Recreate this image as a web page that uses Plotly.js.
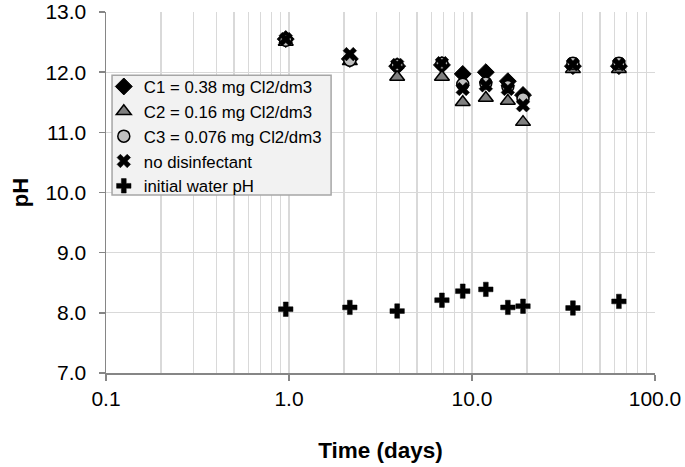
<!DOCTYPE html>
<html>
<head>
<meta charset="utf-8">
<script src="https://cdn.plot.ly/plotly-3.0.1.min.js"></script>
<style>html,body{margin:0;padding:0;background:#fff;}#chart{width:685px;height:467px;}</style>
</head>
<body>
<div id="chart"></div>
<script>
// Time (days)
const days = [0.96, 2.15, 3.9, 6.85, 8.9, 11.9, 15.7, 19.0, 35.6, 63.5];
// pH series
const c1 = [12.55, 12.22, 12.10, 12.12, 11.97, 12.00, 11.85, 11.62, 12.10, 12.10];
const c2 = [12.50, 12.18, 11.92, 11.92, 11.50, 11.57, 11.52, 11.17, 12.05, 12.05];
const c3 = [12.53, 12.20, 12.12, 12.15, 11.80, 11.82, 11.76, 11.56, 12.15, 12.15];
const noDis = [12.55, 12.30, 12.12, 12.15, 11.72, 11.78, 11.72, 11.45, 12.13, 12.13];
const initial = [8.06, 8.09, 8.03, 8.21, 8.36, 8.39, 8.09, 8.11, 8.08, 8.19];
const names = ['C1 = 0.38 mg Cl2/dm3', 'C2 = 0.16 mg Cl2/dm3', 'C3 = 0.076 mg Cl2/dm3', 'no disinfectant', 'initial water pH'];
const xTickVals = [0.1, 1, 10, 100];
const xTickText = ['0.1', '1.0', '10.0', '100.0'];
const yTickVals = [7, 8, 9, 10, 11, 12, 13];
const yTickText = ['7.0', '8.0', '9.0', '10.0', '11.0', '12.0', '13.0'];

const font = 'Liberation Sans, Arial, sans-serif';
const traces = [
  {x: days, y: c1, name: names[0], type: 'scatter', mode: 'markers',
   marker: {symbol: 'diamond', size: 13, color: '#000000', line: {color: '#000', width: 1}}},
  {x: days, y: c2, name: names[1], type: 'scatter', mode: 'markers',
   marker: {symbol: 'triangle-up', size: 13, color: '#7f7f7f', line: {color: '#000', width: 1.5}}},
  {x: days, y: c3, name: names[2], type: 'scatter', mode: 'markers',
   marker: {symbol: 'circle', size: 12, color: '#bfbfbf', line: {color: '#000', width: 1.5}}},
  {x: days, y: noDis, name: names[3], type: 'scatter', mode: 'markers',
   marker: {symbol: 'x', size: 12, color: '#000000', line: {color: '#000', width: 0.5}}},
  {x: days, y: initial, name: names[4], type: 'scatter', mode: 'markers',
   marker: {symbol: 'cross', size: 12, color: '#000000', line: {color: '#000', width: 0.5}}}
];

const layout = {
  width: 685, height: 467,
  margin: {l: 106, r: 30, t: 12, b: 94},
  paper_bgcolor: '#fff', plot_bgcolor: '#fff',
  font: {family: font, color: '#000', size: 20},
  showlegend: true,
  legend: {x: -0.004, y: 0.842, xanchor: 'left', yanchor: 'top',
    bgcolor: 'rgba(0,0,0,0)', borderwidth: 0,
    font: {family: font, size: 16.8, color: '#000'}, itemwidth: 30, tracegroupgap: 0},
  shapes: [{type: 'rect', xref: 'paper', yref: 'paper', x0: 0.011, x1: 0.41, y0: 0.493, y1: 0.825,
    fillcolor: '#f2f2f2', line: {color: '#a6a6a6', width: 1.5}, layer: 'above'}],
  xaxis: {type: 'log', range: [-1, 2], tickmode: 'array', tickvals: xTickVals, ticktext: xTickText,
    showgrid: true, gridcolor: '#d9d9d9', gridwidth: 1.3,
    minor: {dtick: 'D1', showgrid: true, gridcolor: '#d9d9d9', gridwidth: 1.3, ticks: ''},
    showline: true, linecolor: '#868686', linewidth: 1.5, ticks: 'outside', ticklen: 6, tickcolor: '#868686', tickwidth: 1.5,
    tickfont: {family: font, size: 21}, zeroline: false,
    title: {text: '<b>Time (days)</b>', font: {family: font, size: 22.5}, standoff: 33}},
  yaxis: {range: [7, 13], tickmode: 'array', tickvals: yTickVals, ticktext: yTickText,
    showgrid: true, gridcolor: '#d9d9d9', gridwidth: 1.3,
    showline: true, linecolor: '#868686', linewidth: 1.5, ticks: 'outside', ticklen: 6, tickcolor: '#868686', tickwidth: 1.5,
    ticklabelstandoff: 8,
    tickfont: {family: font, size: 21}, zeroline: false,
    title: {text: '<b>pH</b>', font: {family: font, size: 22}, standoff: 10}}
};

Plotly.newPlot('chart', traces, layout, {displayModeBar: false, staticPlot: true});
</script>
</body>
</html>
